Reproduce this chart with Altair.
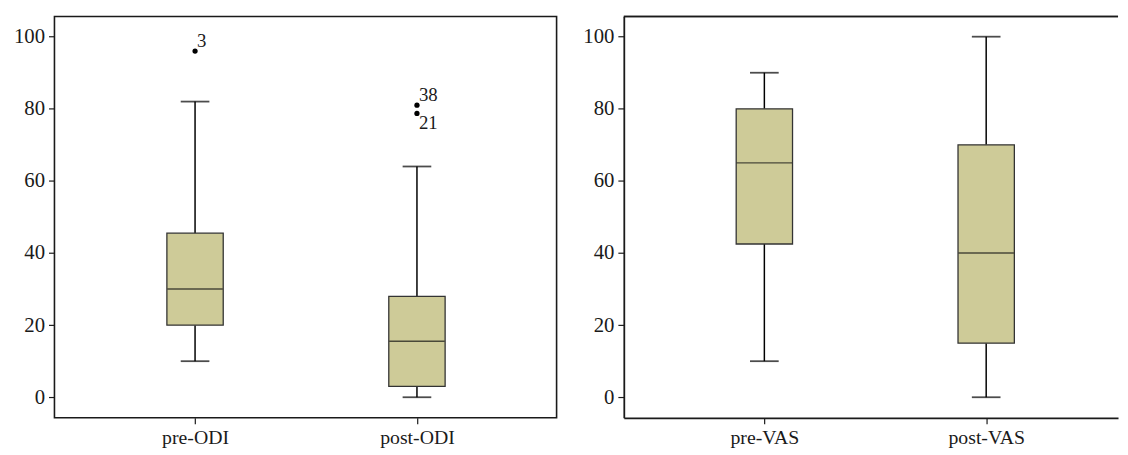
import altair as alt
import pandas as pd

# ---- data ----
odi_groups = ["pre-ODI", "post-ODI"]
odi_min = [10, 0]
odi_q1 = [20, 3]
odi_median = [30, 15.5]
odi_q3 = [45.5, 28]
odi_max = [82, 64]

odi_outlier_group = ["pre-ODI", "post-ODI", "post-ODI"]
odi_outlier_value = [96, 81, 78.7]
odi_outlier_label = ["3", "38", "21"]

vas_groups = ["pre-VAS", "post-VAS"]
vas_min = [10, 0]
vas_q1 = [42.5, 15]
vas_median = [65, 40]
vas_q3 = [80, 70]
vas_max = [90, 100]

y_ticks = [0, 20, 40, 60, 80, 100]

FONT = "Liberation Serif"
FILL = "#CECB98"
INK = "#1a1a1a"
STEP = 229.0          # px between the two boxes
PAD = 140.0           # px from plot edge to the first box centre
BOX_W = 57
CAP_W = 29
H = 406
Y_DOMAIN = [-5.7, 105.6]
FS_X = 20
FS_Y = 21


def stats_frame(groups, mn, q1, med, q3, mx):
    return pd.DataFrame({
        "group": groups,
        "pos": list(range(1, len(groups) + 1)),
        "min": mn, "q1": q1, "median": med, "q3": q3, "max": mx,
    })


def panel(groups, mn, q1, med, q3, mx, width, framed,
          out_group=None, out_val=None, out_lab=None):
    df = stats_frame(groups, mn, q1, med, q3, mx)
    lo = 1 - PAD / STEP
    xs = alt.Scale(domain=[lo, lo + width / STEP], nice=False, zero=False)
    ys = alt.Scale(domain=Y_DOMAIN, nice=False, zero=False)
    label_expr = " : ".join(
        f"datum.value == {i + 1} ? '{g}'" for i, g in enumerate(groups)
    ) + " : ''"
    x_axis = alt.Axis(values=list(range(1, len(groups) + 1)), labelExpr=label_expr,
                      title=None, grid=False, tickSize=6, tickColor=INK, tickWidth=1.2,
                      labelPadding=4, labelFont=FONT, labelFontSize=FS_X, labelColor=INK,
                      domain=not framed, domainColor=INK, domainWidth=1.8)
    y_axis = alt.Axis(values=y_ticks, title=None, grid=False, tickSize=6, tickColor=INK,
                      tickWidth=1.2, labelPadding=4, labelFont=FONT, labelFontSize=FS_Y,
                      labelColor=INK, domain=not framed, domainColor=INK, domainWidth=1.8,
                      minExtent=46, maxExtent=46)

    base = alt.Chart(df)
    x = alt.X("pos:Q", scale=xs, axis=x_axis)

    whisk_hi = base.mark_rule(color="black", strokeWidth=1.5).encode(
        x=x, y=alt.Y("q3:Q", scale=ys, axis=y_axis), y2="max:Q")
    whisk_lo = base.mark_rule(color="black", strokeWidth=1.5).encode(
        x=x, y=alt.Y("min:Q", scale=ys), y2="q1:Q")
    cap_hi = base.mark_tick(orient="horizontal", size=CAP_W, thickness=1.8,
                            color="black").encode(x=x, y=alt.Y("max:Q", scale=ys))
    cap_lo = base.mark_tick(orient="horizontal", size=CAP_W, thickness=1.8,
                            color="black").encode(x=x, y=alt.Y("min:Q", scale=ys))
    box = base.mark_bar(size=BOX_W, orient="vertical", fill=FILL, stroke="#333333",
                        strokeWidth=1.3).encode(
        x=x, y=alt.Y("q1:Q", scale=ys), y2="q3:Q")
    med_line = base.mark_tick(orient="horizontal", size=BOX_W - 1, thickness=1.5,
                              color="#111111").encode(x=x, y=alt.Y("median:Q", scale=ys))

    layers = [whisk_hi, whisk_lo, box, med_line, cap_hi, cap_lo]

    if out_group is not None:
        pos_of = {g: i + 1 for i, g in enumerate(groups)}
        od = pd.DataFrame({"group": out_group, "value": out_val, "label": out_lab})
        od["pos"] = od["group"].map(pos_of)
        od["n"] = od.groupby("group")["value"].transform("count")
        od["rank"] = od.groupby("group")["value"].rank(ascending=False)
        od["below"] = (od["n"] > 1) & (od["rank"] > 1)
        ob = alt.Chart(od)
        dots = ob.mark_circle(size=28, color="black", opacity=1).encode(
            x=x, y=alt.Y("value:Q", scale=ys))
        lab_up = ob.transform_filter("!datum.below").mark_text(
            font=FONT, fontSize=19, color=INK, align="left", baseline="bottom",
            dx=2, dy=0).encode(x=x, y=alt.Y("value:Q", scale=ys), text="label:N")
        lab_dn = ob.transform_filter("datum.below").mark_text(
            font=FONT, fontSize=19, color=INK, align="left", baseline="top",
            dx=2, dy=1).encode(x=x, y=alt.Y("value:Q", scale=ys), text="label:N")
        layers += [dots, lab_up, lab_dn]

    if not framed:
        top_line = alt.Chart(df).mark_rule(color=INK, strokeWidth=1.6).encode(
            x=alt.value(0), x2=alt.value(width), y=alt.value(0))
        layers.append(top_line)

    view = (alt.ViewBackground(stroke=INK, strokeWidth=1.6) if framed
            else alt.ViewBackground(stroke="transparent"))
    return alt.layer(*layers).properties(width=width, height=H, view=view)


left = panel(odi_groups, odi_min, odi_q1, odi_median, odi_q3, odi_max, 508, True,
             odi_outlier_group, odi_outlier_value, odi_outlier_label)
right = panel(vas_groups, vas_min, vas_q1, vas_median, vas_q3, vas_max, 500, False)

chart = alt.hconcat(left, right, spacing=20).properties(
    padding={"left": 0, "top": 4, "right": 0, "bottom": 0}
).configure(background="white")

chart.save("out.html", embed_options={"renderer": "svg", "actions": False})
